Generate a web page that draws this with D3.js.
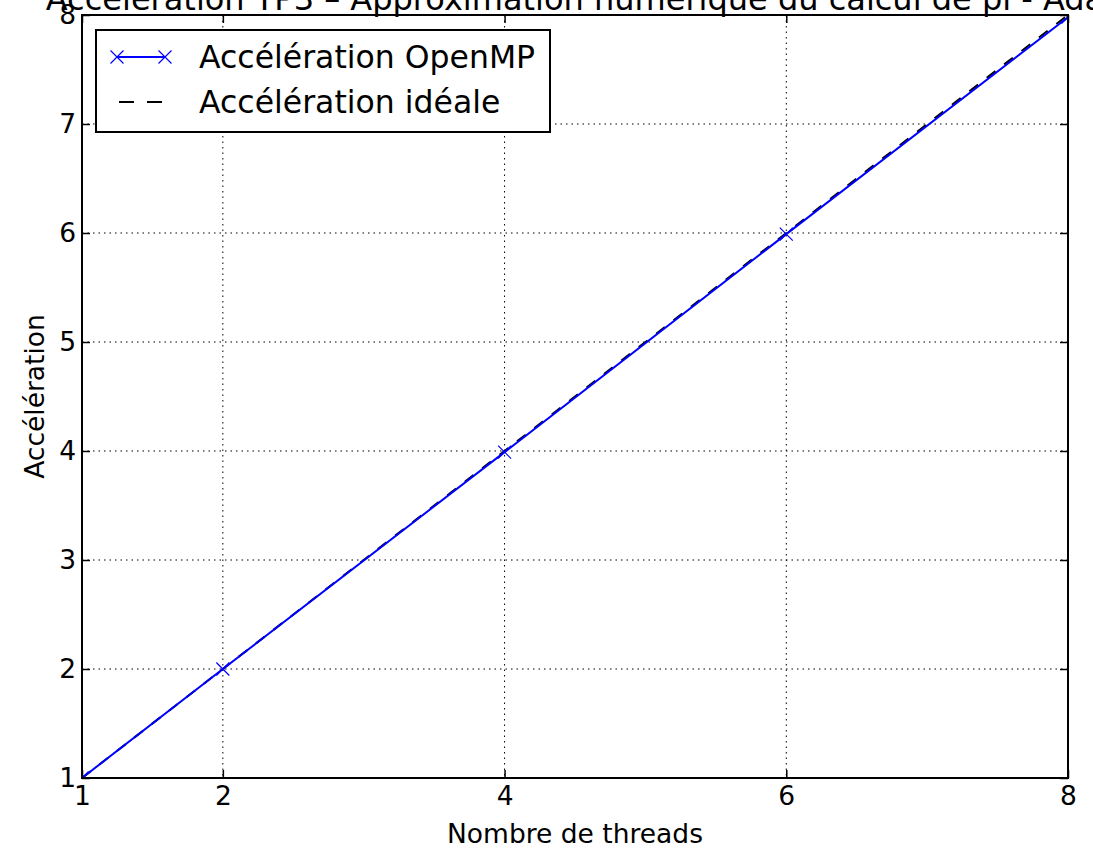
<!DOCTYPE html>
<html>
<head>
<meta charset="utf-8">
<script src="https://cdn.jsdelivr.net/npm/d3@7"></script>
<style>
  html, body { margin: 0; padding: 0; background: #fff; }
  svg { display: block; font-family: "DejaVu Sans", sans-serif; }
</style>
</head>
<body>
<svg id="chart" width="1093" height="848"></svg>
<script>
// ---- data ----
const threads = [1, 2, 4, 6, 8];
const speedupOpenMP = [1, 2.0, 3.99, 5.99, 7.98];
const idealThreads = [1, 2, 3, 4, 5, 6, 7, 8];
const idealSpeedup = [1, 2, 3, 4, 5, 6, 7, 8];
const xTicks = [1, 2, 4, 6, 8];
const yTicks = [1, 2, 3, 4, 5, 6, 7, 8];
const titleText = "Accélération TP3 – Approximation numérique du calcul de pi - Ada";
const xLabel = "Nombre de threads";
const yLabel = "Accélération";
const legendLabels = ["Accélération OpenMP", "Accélération idéale"];

// ---- layout ----
const W = 1093, H = 848;
const m = { left: 82, right: W - 1068, top: 15, bottom: H - 778 };
const svg = d3.select("#chart");
const iw = W - m.left - m.right, ih = H - m.top - m.bottom;
const fsTick = 26.5, fsLabel = 26.5, fsTitle = 32, fsLegend = 31.5;

const x = d3.scaleLinear().domain([1, 8]).range([m.left, m.left + iw]);
const y = d3.scaleLinear().domain([1, 8]).range([m.top + ih, m.top]);

// grid
const grid = svg.append("g");
grid.selectAll(".gx").data(xTicks.filter(v => v > 1 && v < 8)).join("line")
  .attr("x1", d => x(d)).attr("x2", d => x(d))
  .attr("y1", m.top).attr("y2", m.top + ih)
  .attr("stroke", "#000").attr("stroke-width", 1).attr("stroke-dasharray", "1.5,4");
grid.selectAll(".gy").data(yTicks.filter(v => v > 1 && v < 8)).join("line")
  .attr("y1", d => y(d)).attr("y2", d => y(d))
  .attr("x1", m.left).attr("x2", m.left + iw)
  .attr("stroke", "#000").attr("stroke-width", 1).attr("stroke-dasharray", "1.5,4");

// clip
svg.append("clipPath").attr("id", "clip").append("rect")
  .attr("x", m.left).attr("y", m.top).attr("width", iw).attr("height", ih);

const plot = svg.append("g").attr("clip-path", "url(#clip)");
const line = d3.line().x(d => x(d[0])).y(d => y(d[1]));

plot.append("path")
  .datum(idealThreads.map((t, i) => [t, idealSpeedup[i]]))
  .attr("d", line).attr("fill", "none").attr("stroke", "#000")
  .attr("stroke-width", 2).attr("stroke-dasharray", "11,11");

const omp = threads.map((t, i) => [t, speedupOpenMP[i]]);
plot.append("path").datum(omp).attr("d", line)
  .attr("fill", "none").attr("stroke", "#0000ff").attr("stroke-width", 2);

const ms = 6.5;
const xMarker = (g, cx, cy) => {
  g.append("path")
    .attr("d", `M${cx - ms},${cy - ms}L${cx + ms},${cy + ms}M${cx - ms},${cy + ms}L${cx + ms},${cy - ms}`)
    .attr("stroke", "#0000ff").attr("stroke-width", 1.2).attr("fill", "none");
};
omp.forEach(d => xMarker(plot, x(d[0]), y(d[1])));

// axes with inward ticks on all four sides
const tickLen = 8;
const axBottom = svg.append("g").attr("transform", `translate(0,${m.top + ih})`)
  .call(d3.axisBottom(x).tickValues(xTicks).tickSize(-tickLen).tickPadding(8).tickFormat(d3.format("d")));
const axTop = svg.append("g").attr("transform", `translate(0,${m.top})`)
  .call(d3.axisTop(x).tickValues(xTicks).tickSize(-tickLen).tickFormat(""));
const axLeft = svg.append("g").attr("transform", `translate(${m.left},0)`)
  .call(d3.axisLeft(y).tickValues(yTicks).tickSize(-tickLen).tickPadding(6).tickFormat(d3.format("d")));
const axRight = svg.append("g").attr("transform", `translate(${m.left + iw},0)`)
  .call(d3.axisRight(y).tickValues(yTicks).tickSize(-tickLen).tickFormat(""));
[axBottom, axTop, axLeft, axRight].forEach(g => {
  g.select(".domain").remove();
  g.selectAll(".tick line").attr("stroke", "#000").attr("stroke-width", 1.5);
  g.selectAll("text").attr("font-family", "DejaVu Sans").attr("font-size", fsTick).attr("fill", "#000");
});
axBottom.selectAll("text").attr("dy", "0.71em");

// frame
svg.append("rect").attr("x", m.left).attr("y", m.top).attr("width", iw).attr("height", ih)
  .attr("fill", "none").attr("stroke", "#000").attr("stroke-width", 2);

// labels
svg.append("text").attr("x", m.left + iw / 2).attr("y", 843)
  .attr("text-anchor", "middle").attr("font-size", fsLabel).text(xLabel);
svg.append("text").attr("transform", `translate(44,${m.top + ih / 2}) rotate(-90)`)
  .attr("text-anchor", "middle").attr("font-size", fsLabel).text(yLabel);
svg.append("text").attr("x", m.left + iw / 2).attr("y", 10)
  .attr("text-anchor", "middle").attr("font-size", fsTitle).text(titleText);

// legend
const lg = svg.append("g");
lg.append("rect").attr("x", 96).attr("y", 30).attr("width", 454).attr("height", 102)
  .attr("fill", "#fff").attr("stroke", "#000").attr("stroke-width", 2);
const ly = [57, 102];
lg.append("line").attr("x1", 117).attr("x2", 165).attr("y1", ly[0]).attr("y2", ly[0])
  .attr("stroke", "#0000ff").attr("stroke-width", 2);
xMarker(lg, 117, ly[0]); xMarker(lg, 165, ly[0]);
lg.append("line").attr("x1", 117).attr("x2", 165).attr("y1", ly[1]).attr("y2", ly[1])
  .attr("stroke", "#000").attr("stroke-width", 2).attr("stroke-dasharray", "15,13").attr("stroke-dashoffset", -2);
legendLabels.forEach((t, i) => {
  lg.append("text").attr("x", 199).attr("y", ly[i]).attr("dy", "0.36em")
    .attr("font-size", fsLegend).text(t);
});
</script>
</body>
</html>
